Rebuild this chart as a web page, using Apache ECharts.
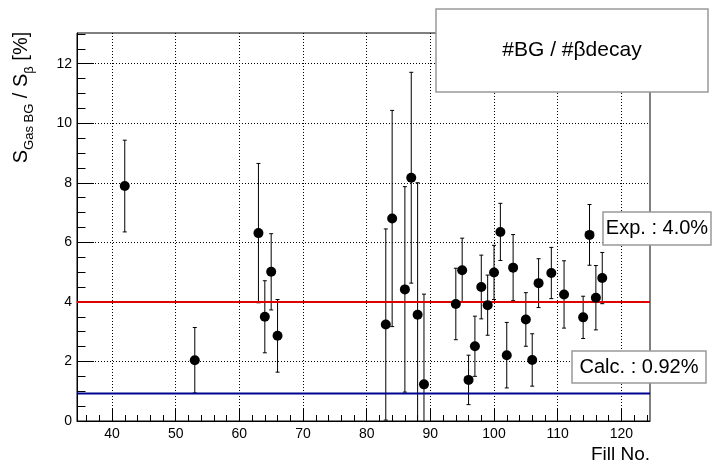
<!DOCTYPE html>
<html>
<head>
<meta charset="utf-8">
<script src="https://cdn.jsdelivr.net/npm/echarts@6/dist/echarts.min.js"></script>
<style>html,body{margin:0;padding:0;background:#fff;}#c{width:714px;height:468px;}</style>
</head>
<body>
<div id="c"></div>
<script>
// ---- data ----
const fills  = [42, 53, 63, 64, 65, 66, 83, 84, 86, 87, 88, 89, 94, 95, 96, 97, 98, 99, 100, 101, 102, 103, 105, 106, 107, 109, 111, 114, 115, 116, 117];
const ratio  = [7.89, 2.04, 6.31, 3.50, 5.01, 2.86, 3.24, 6.80, 4.42, 8.17, 3.57, 1.23, 3.93, 5.06, 1.38, 2.51, 4.50, 3.89, 4.99, 6.35, 2.21, 5.15, 3.41, 2.05, 4.63, 4.97, 4.25, 3.48, 6.25, 4.14, 4.80];
const errors = [1.54, 1.10, 2.34, 1.21, 1.28, 1.22, 3.21, 3.63, 3.45, 3.54, 4.43, 3.03, 1.20, 1.08, 0.83, 1.01, 1.07, 1.01, 0.91, 0.96, 1.10, 1.11, 0.90, 0.88, 0.82, 0.86, 1.13, 0.71, 1.02, 1.08, 0.86];
const expRatio  = 4.0;
const calcRatio = 0.92;
const xRange = [34.5, 124.5];
const yRange = [0, 13.03];
const xMajorTicks = [40, 50, 60, 70, 80, 90, 100, 110, 120];
const xMinorTicks = [36, 38, 42, 44, 46, 48, 52, 54, 56, 58, 62, 64, 66, 68, 72, 74, 76, 78, 82, 84, 86, 88, 92, 94, 96, 98, 102, 104, 106, 108, 112, 114, 116, 118, 122, 124];
const yMajorTicks = [0, 2, 4, 6, 8, 10, 12];
const yMinorTicks = [0.5, 1, 1.5, 2.5, 3, 3.5, 4.5, 5, 5.5, 6.5, 7, 7.5, 8.5, 9, 9.5, 10.5, 11, 11.5, 12.5, 13];
const titleText = '#BG / #βdecay';
const expLabel  = 'Exp. : 4.0%';
const calcLabel = 'Calc. : 0.92%';
const xTitle = 'Fill No.';

const FONT = '"Liberation Sans", Arial, Helvetica, sans-serif';
const chart = echarts.init(document.getElementById('c'), null, {renderer: 'canvas'});

const points = fills.map((f, i) => [f, ratio[i], errors[i]]);

function renderErr(params, api) {
  const x = api.value(0), y = api.value(1), e = api.value(2);
  const t = api.coord([x, y + e]);
  const b = api.coord([x, y - e]);
  const cw = 2;
  const st = {stroke: '#000', lineWidth: 1};
  return {type: 'group', children: [
    {type: 'line', shape: {x1: t[0], y1: t[1], x2: b[0], y2: b[1]}, style: st},
    {type: 'line', shape: {x1: t[0] - cw, y1: t[1], x2: t[0] + cw, y2: t[1]}, style: st},
    {type: 'line', shape: {x1: b[0] - cw, y1: b[1], x2: b[0] + cw, y2: b[1]}, style: st}
  ]};
}

function box(x, y, w, h, text, size) {
  return [
    {type: 'rect', z: 100, zlevel: 1, shape: {x: x, y: y, width: w, height: h}, style: {fill: '#fff', stroke: '#999', lineWidth: 1.5}},
    {type: 'text', z: 101, zlevel: 1, x: x + w / 2, y: y + h / 2, style: {text: text, fill: '#000', font: size + 'px ' + FONT, align: 'center', verticalAlign: 'middle'}}
  ];
}

const option = {
  animation: false,
  backgroundColor: '#fff',
  grid: {left: 77, right: 64, top: 33, bottom: 47, show: true, borderColor: '#000', borderWidth: 1, backgroundColor: 'transparent'},
  xAxis: [
    {type: 'value', min: xRange[0], max: xRange[1], position: 'bottom',
     axisLine: {show: true, onZero: false, lineStyle: {color: '#000', width: 1}},
     axisTick: {show: true, inside: true, length: 12, customValues: xMajorTicks, lineStyle: {color: '#000'}},
     axisLabel: {customValues: xMajorTicks, color: '#000', fontSize: 14, fontFamily: FONT, margin: 6},
     splitLine: {show: true, lineStyle: {type: [1, 2], color: '#000', width: 1}}},
    {type: 'value', min: xRange[0], max: xRange[1], position: 'bottom',
     axisLine: {show: false},
     axisTick: {show: true, inside: true, length: 6, customValues: xMinorTicks, lineStyle: {color: '#000'}},
     axisLabel: {show: false}, splitLine: {show: false}}
  ],
  yAxis: [
    {type: 'value', min: yRange[0], max: yRange[1], position: 'left',
     axisLine: {show: true, onZero: false, lineStyle: {color: '#000', width: 1}},
     axisTick: {show: true, inside: true, length: 17, customValues: yMajorTicks, lineStyle: {color: '#000'}},
     axisLabel: {customValues: yMajorTicks, color: '#000', fontSize: 14, fontFamily: FONT, margin: 5},
     splitLine: {show: true, lineStyle: {type: [1, 2], color: '#000', width: 1}}},
    {type: 'value', min: yRange[0], max: yRange[1], position: 'left',
     axisLine: {show: false},
     axisTick: {show: true, inside: true, length: 8.5, customValues: yMinorTicks, lineStyle: {color: '#000'}},
     axisLabel: {show: false}, splitLine: {show: false}}
  ],
  series: [
    {type: 'custom', name: 'err', xAxisIndex: 0, yAxisIndex: 0, data: points, renderItem: renderErr, clip: true, z: 2},
    {type: 'line', name: 'exp', xAxisIndex: 0, yAxisIndex: 0, data: [[xRange[0], expRatio], [xRange[1], expRatio]], symbol: 'none', lineStyle: {color: '#e00000', width: 2}, z: 3},
    {type: 'line', name: 'calc', xAxisIndex: 0, yAxisIndex: 0, data: [[xRange[0], calcRatio], [xRange[1], calcRatio]], symbol: 'none', lineStyle: {color: '#000090', width: 2}, z: 3},
    {type: 'scatter', name: 'pts', xAxisIndex: 0, yAxisIndex: 0, data: points, symbol: 'circle', symbolSize: 10, itemStyle: {color: '#000', opacity: 1}, z: 4}
  ],
  graphic: [].concat(
    box(436, 9, 272, 83, titleText, 21),
    box(603, 212, 108, 33, expLabel, 20),
    box(572, 351, 134, 32, calcLabel, 20),
    [
    {type: 'text', x: 650, y: 455, z: 100, style: {text: xTitle, fill: '#000', font: '19px ' + FONT, align: 'right', verticalAlign: 'middle'}},
    {type: 'text', x: 21, y: 97.5, rotation: Math.PI / 2, z: 100,
     style: {text: '{m|S}{s|Gas BG}{m| / S}{s|β}{m| [%]}', fill: '#000', align: 'center', verticalAlign: 'middle',
       rich: {
         m: {fontSize: 20, fontFamily: FONT, lineHeight: 30, fill: '#000'},
         s: {fontSize: 13, fontFamily: FONT, lineHeight: 18, verticalAlign: 'bottom', fill: '#000'}
       }}}
    ])
};
chart.setOption(option);
</script>
</body>
</html>
